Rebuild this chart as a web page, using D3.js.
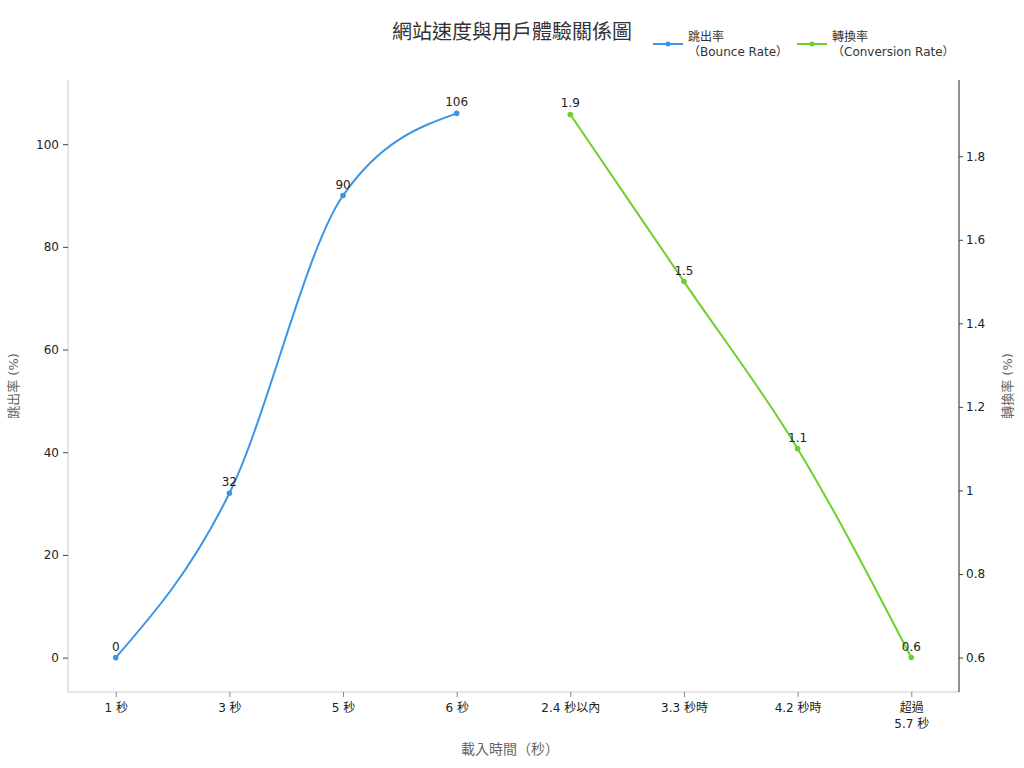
<!doctype html>
<html>
<head>
<meta charset="UTF-8">
<title>網站速度與用戶體驗關係圖</title>
<script src="https://d3js.org/d3.v7.min.js"></script>
<style>
  body { margin: 0; background: #fff; }
  svg text { font-family: "DejaVu Sans", "Noto Sans CJK TC", sans-serif; }
</style>
</head>
<body>
<svg id="chart" width="1024" height="768"></svg>
<script>
// data
var categories = ["1 秒", "3 秒", "5 秒", "6 秒", "2.4 秒以內", "3.3 秒時", "4.2 秒時", "超過\n5.7 秒"];
var bounceRate = [0, 32, 90, 106, null, null, null, null];
var conversionRate = [null, null, null, null, 1.9, 1.5, 1.1, 0.6];
var leftTicks = [0, 20, 40, 60, 80, 100];
var rightTicks = [0.6, 0.8, 1, 1.2, 1.4, 1.6, 1.8];

var blue = "#3b94e5", green = "#6dd12d";
var plotL = 68, plotR = 959, plotT = 80, plotB = 692;

var svg = d3.select("#chart");

var x = d3.scalePoint().domain(d3.range(categories.length)).range([plotL, plotR]).padding(0.42);
var yL = d3.scaleLinear().domain([-6.7, 112.5]).range([plotB, plotT]);
var yR = d3.scaleLinear().domain([0.5175, 1.9825]).range([plotB, plotT]);

// axes
var gx = svg.append("g").attr("transform", "translate(0," + plotB + ")")
  .call(d3.axisBottom(x).tickSize(5).tickFormat(""));
gx.select(".domain").attr("stroke", "#ccc").attr("d", "M" + plotL + ",0H" + plotR);
gx.selectAll(".tick line").attr("stroke", "#888");
gx.selectAll(".tick").append("text")
  .attr("fill", "#222").attr("font-size", 12).attr("text-anchor", "middle")
  .each(function(d){
    var lines = categories[d].split("\n");
    var t = d3.select(this);
    lines.forEach(function(s, i){
      t.append("tspan").attr("x", 0).attr("y", 20 + i * 16).text(s);
    });
  });

var gl = svg.append("g").attr("transform", "translate(" + plotL + ",0)")
  .call(d3.axisLeft(yL).tickValues(leftTicks).tickSize(5).tickPadding(4));
gl.select(".domain").attr("stroke", "#ccc").attr("d", "M0," + plotT + "V" + plotB);
gl.selectAll(".tick line").attr("stroke", "#444");
gl.selectAll(".tick text").attr("fill", "#222").attr("font-size", 12).attr("font-family", null);

var gr = svg.append("g").attr("transform", "translate(" + plotR + ",0)")
  .call(d3.axisRight(yR).tickValues(rightTicks).tickSize(4).tickPadding(3).tickFormat(d3.format("~g")));
gr.select(".domain").attr("stroke", "#222").attr("d", "M0," + plotT + "V" + plotB);
gr.selectAll(".tick line").attr("stroke", "#444");
gr.selectAll(".tick text").attr("fill", "#222").attr("font-size", 12).attr("font-family", null);

// axis titles
svg.append("text").attr("x", 510).attr("y", 754).attr("text-anchor", "middle")
  .attr("font-size", 14).attr("fill", "#666").text("載入時間（秒）");
svg.append("text").attr("transform", "translate(18,386) rotate(-90)").attr("text-anchor", "middle")
  .attr("font-size", 13).attr("fill", "#666").text("跳出率 (%)");
svg.append("text").attr("transform", "translate(1012,386) rotate(-90)").attr("text-anchor", "middle")
  .attr("font-size", 13).attr("fill", "#666").text("轉換率 (%)");

// title
svg.append("text").attr("x", 512).attr("y", 39).attr("text-anchor", "middle")
  .attr("font-size", 20).attr("fill", "#333").text("網站速度與用戶體驗關係圖");

// series
function drawSeries(values, y, color, fmt){
  var pts = values.map(function(v, i){ return {i: i, v: v}; }).filter(function(d){ return d.v != null; });
  var line = d3.line().x(function(d){ return x(d.i); }).y(function(d){ return y(d.v); }).curve(d3.curveMonotoneX);
  svg.append("path").datum(pts).attr("d", line).attr("fill", "none")
    .attr("stroke", color).attr("stroke-width", 2);
  svg.selectAll(null).data(pts).enter().append("circle")
    .attr("cx", function(d){ return x(d.i); }).attr("cy", function(d){ return y(d.v); })
    .attr("r", 2.8).attr("fill", color);
  svg.selectAll(null).data(pts).enter().append("text")
    .attr("x", function(d){ return x(d.i); }).attr("y", function(d){ return y(d.v) - 7; })
    .attr("text-anchor", "middle").attr("font-size", 12).attr("fill", "#222")
    .text(function(d){ return fmt(d.v); });
}
drawSeries(bounceRate, yL, blue, d3.format("d"));
drawSeries(conversionRate, yR, green, d3.format(".1f"));

// legend
var legendItems = [
  {name: "跳出率", sub: "（Bounce Rate）", color: blue, x: 653},
  {name: "轉換率", sub: "（Conversion Rate）", color: green, x: 797}
];
var lg = svg.selectAll(".legend").data(legendItems).enter().append("g")
  .attr("transform", function(d){ return "translate(" + d.x + ",44)"; });
lg.append("line").attr("x1", 0).attr("x2", 30).attr("stroke", function(d){ return d.color; }).attr("stroke-width", 2);
lg.append("circle").attr("cx", 15).attr("r", 2.5).attr("fill", function(d){ return d.color; });
lg.append("text").attr("x", 35).attr("y", -3).attr("font-size", 12).attr("fill", "#333").text(function(d){ return d.name; });
lg.append("text").attr("x", 35).attr("y", 12).attr("font-size", 12).attr("fill", "#333").text(function(d){ return d.sub; });
</script>
</body>
</html>
